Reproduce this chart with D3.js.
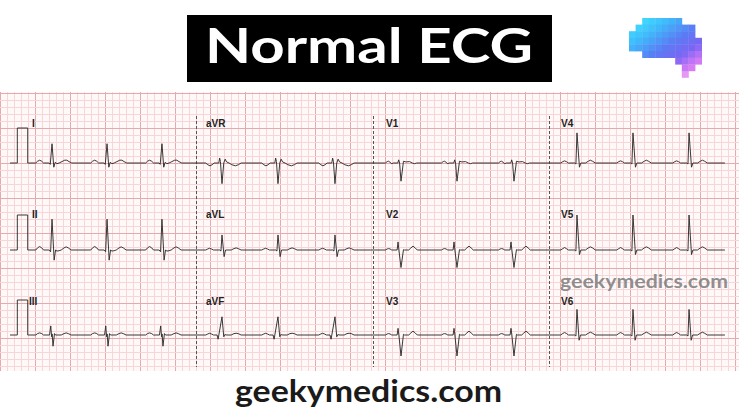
<!DOCTYPE html>
<html><head><meta charset="utf-8">
<script src="https://cdn.jsdelivr.net/npm/d3@7"></script>
<style>html,body{margin:0;padding:0;background:#fff;}svg{display:block}</style>
</head><body><svg id="c" width="739" height="415"></svg>
<script>
// ---- data ----
const titleText = "Normal ECG";
const footerText = "geekymedics.com";
const watermarkText = "geekymedics.com";
const leadRows = [["I","aVR","V1","V4"],["II","aVL","V2","V5"],["III","aVF","V3","V6"]];
// R-wave times (s) of the three beats shown in each column
const columnBeatTimes = [[0.453,1.231,2.008],[2.857,3.649,4.455],[5.389,6.181,6.987],[7.878,8.670,9.463]];
const dividerTimes = [2.5, 5.0, 7.5];
const stripStart = -0.141, stripEnd = 9.97;
const calibration = [[-0.038,0],[-0.038,1],[0.109,1],[0.109,0]]; // [s, mV]
// beat shapes: [seconds relative to R, mV]
const leadTemplates = {
  I:   [[-0.23,0],[-0.205,0.05],[-0.175,0.08],[-0.145,0.05],[-0.12,0],[-0.04,0],[-0.025,-0.04],[0,0.55],[0.025,-0.12],[0.045,0.02],[0.07,-0.02],[0.1,0],[0.14,0.04],[0.18,0.08],[0.21,0.08],[0.24,0.04],[0.28,0]],
  II:  [[-0.23,0],[-0.205,0.06],[-0.175,0.1],[-0.145,0.06],[-0.12,0],[-0.04,0],[-0.02,-0.05],[0,0.88],[0.03,-0.29],[0.05,0],[0.07,-0.03],[0.1,-0.02],[0.13,0],[0.17,0.06],[0.2,0.09],[0.23,0.06],[0.27,0]],
  III: [[-0.23,0],[-0.205,0.04],[-0.175,0.06],[-0.145,0.04],[-0.12,0],[-0.035,0],[-0.018,0.26],[-0.006,-0.05],[0.002,0.03],[0.014,-0.32],[0.035,0.04],[0.05,0],[0.13,0],[0.17,0.04],[0.2,0.06],[0.23,0.04],[0.27,0]],
  aVR: [[-0.23,0],[-0.2,-0.05],[-0.17,-0.08],[-0.14,-0.05],[-0.11,0],[-0.045,0],[-0.033,0.14],[-0.022,0.04],[0,-0.59],[0.025,0.0],[0.045,0.11],[0.065,0.03],[0.1,0],[0.14,-0.05],[0.19,-0.08],[0.23,-0.05],[0.27,0]],
  aVL: [[-0.23,0],[-0.2,0.03],[-0.175,0.05],[-0.15,0.03],[-0.12,0],[-0.03,0],[-0.015,-0.03],[0,0.43],[0.03,-0.19],[0.05,0],[0.13,0],[0.17,0.04],[0.2,0.06],[0.23,0.04],[0.27,0]],
  aVF: [[-0.23,0],[-0.2,0.03],[-0.175,0.05],[-0.15,0.03],[-0.12,0],[-0.07,0],[-0.055,-0.12],[0,0.52],[0.025,-0.05],[0.04,0.01],[0.07,0],[0.13,0],[0.17,0.04],[0.2,0.05],[0.23,0.04],[0.27,0]],
  V1:  [[-0.22,0],[-0.195,0.04],[-0.175,0.05],[-0.155,0.02],[-0.13,-0.02],[-0.11,0],[-0.045,0],[-0.033,0.09],[-0.02,0.0],[0,-0.52],[0.035,0.05],[0.07,0.03],[0.12,0.04],[0.16,0.0],[0.19,-0.02],[0.22,0]],
  V2:  [[-0.22,0],[-0.195,0.03],[-0.175,0.04],[-0.155,0.03],[-0.13,0],[-0.055,0],[-0.042,0.23],[-0.03,0.0],[0,-0.5],[0.035,0.01],[0.05,0],[0.11,0],[0.14,0.06],[0.17,0.11],[0.2,0.06],[0.23,0]],
  V3:  [[-0.22,0],[-0.195,0.03],[-0.175,0.04],[-0.155,0.03],[-0.13,0],[-0.055,0],[-0.042,0.19],[-0.03,0.0],[0,-0.6],[0.035,0.02],[0.05,0],[0.11,0],[0.14,0.06],[0.17,0.11],[0.2,0.06],[0.23,0]],
  V4:  [[-0.23,0],[-0.2,0.04],[-0.175,0.06],[-0.15,0.04],[-0.12,0],[-0.03,0],[-0.015,-0.03],[0,0.86],[0.035,-0.12],[0.055,0],[0.12,0],[0.16,0.05],[0.19,0.08],[0.22,0.05],[0.26,0]],
  V5:  [[-0.23,0],[-0.2,0.04],[-0.175,0.07],[-0.15,0.04],[-0.12,0],[-0.03,0],[-0.015,-0.03],[0,1.0],[0.035,-0.13],[0.055,0],[0.12,0],[0.16,0.06],[0.19,0.09],[0.22,0.06],[0.26,0]],
  V6:  [[-0.23,0],[-0.2,0.045],[-0.175,0.07],[-0.15,0.045],[-0.12,0],[-0.03,0],[-0.015,-0.03],[0,0.73],[0.03,-0.15],[0.05,0],[0.12,0],[0.16,0.05],[0.19,0.08],[0.22,0.05],[0.26,0]]
};
const labelPos = {I:[32,127],aVR:[206,127],V1:[386,127],V4:[561,127],
  II:[32,218],aVL:[206,218],V2:[386,218],V5:[561,218],
  III:[29,305],aVF:[206,305],V3:[386,305],V6:[561,305]};
// logo pixel rows: [row, firstCol, lastCol]
const logoRows = [[0,2,7],[1,1,9],[2,0,9],[3,0,10],[4,0,10],[5,2,10],[6,7,10],[7,8,9],[8,8,8]];

// ---- drawing ----
const svg = d3.select("#c");
const W = 739, H = 415;
svg.append("rect").attr("width",W).attr("height",H).attr("fill","#fff");

// grid paper
const gTop = 92, gBot = 371;
const grid = svg.append("g");
grid.append("rect").attr("x",0).attr("y",gTop).attr("width",W).attr("height",gBot-gTop).attr("fill","#fff8f8");
const minor = 7;
d3.range(0, W+1, minor).forEach((px,i)=>{
  grid.append("line").attr("x1",px+0.5).attr("x2",px+0.5).attr("y1",gTop).attr("y2",gBot)
    .attr("stroke", i%5===0 ? "#e5abab" : "#f6d6d6").attr("stroke-width",1);
});
d3.range(gTop+1, gBot+1, minor).forEach((py,i)=>{
  grid.append("line").attr("y1",py+0.5).attr("y2",py+0.5).attr("x1",0).attr("x2",W)
    .attr("stroke", i%5===0 ? "#e5abab" : "#f6d6d6").attr("stroke-width",1);
});

const x = d3.scaleLinear().domain([0,10]).range([20,727]);
const rowBaselines = [163,250,335];
const mvPx = 35;

// dividers
dividerTimes.forEach(t=>{
  svg.append("line").attr("x1",Math.round(x(t))-0.5).attr("x2",Math.round(x(t))-0.5)
    .attr("y1",116).attr("y2",367).attr("stroke","#555").attr("stroke-width",1).attr("stroke-dasharray","3,2");
});

// traces
leadRows.forEach((row,r)=>{
  const b = rowBaselines[r];
  const y = d3.scaleLinear().domain([-1,1]).range([b+mvPx,b-mvPx]);
  let pts = [[stripStart,0]].concat(calibration);
  row.forEach((lead,c)=>{
    columnBeatTimes[c].forEach(bt=>{
      leadTemplates[lead].forEach(p=>pts.push([bt+p[0],p[1]]));
    });
  });
  pts.push([stripEnd,0]);
  const line = d3.line().x(d=>x(d[0])).y(d=>y(d[1]));
  svg.append("path").attr("d",line(pts)).attr("fill","none").attr("stroke","#2e2e2e")
    .attr("stroke-width",0.95).attr("stroke-linejoin","round");
  row.forEach(lead=>{
    svg.append("text").attr("x",labelPos[lead][0]).attr("y",labelPos[lead][1])
      .attr("font-family","Liberation Sans, Arial, sans-serif").attr("font-weight","bold")
      .attr("font-size",10).attr("fill","#222").text(lead);
  });
});

// watermark
svg.append("text").attr("x",560).attr("y",288).attr("font-family","Lato, sans-serif")
  .attr("font-weight","bold").attr("font-size",19).attr("fill","#7c7c7c").attr("fill-opacity",0.85)
  .attr("textLength",168).attr("lengthAdjust","spacingAndGlyphs").text(watermarkText);

// title
svg.append("rect").attr("x",187).attr("y",15).attr("width",365).attr("height",67).attr("fill","#000");
svg.append("text").attr("x",205).attr("y",63).attr("font-family","Lato, sans-serif")
  .attr("font-weight","bold").attr("font-size",48).attr("fill","#fff")
  .attr("textLength",328).attr("lengthAdjust","spacingAndGlyphs").text(titleText);

// footer
svg.append("text").attr("x",235).attr("y",402).attr("font-family","Lato, sans-serif")
  .attr("font-weight","bold").attr("font-size",30).attr("fill","#1a1a1a")
  .attr("textLength",267).attr("lengthAdjust","spacingAndGlyphs").text(footerText);

// logo
const ps = 6.6, lx = 629, ly = 18;
const logoColor = d3.scaleLinear().domain([0,0.25,0.5,0.7,0.85,1])
  .range(["#3ee8ff","#40b8fb","#5a7cf4","#7a66f3","#c777f6","#f888f0"]).interpolate(d3.interpolateRgb);
logoRows.forEach(([rr,c0,c1])=>{
  for(let cc=c0; cc<=c1; cc++){
    const t = Math.min(1,(cc*0.6 + rr*0.9)/13);
    svg.append("rect").attr("x",lx+cc*ps).attr("y",ly+rr*ps).attr("width",ps+0.4).attr("height",ps+0.4)
      .attr("fill",logoColor(t)).attr("opacity", rr===8?0.8:1);
  }
});
</script></body></html>
